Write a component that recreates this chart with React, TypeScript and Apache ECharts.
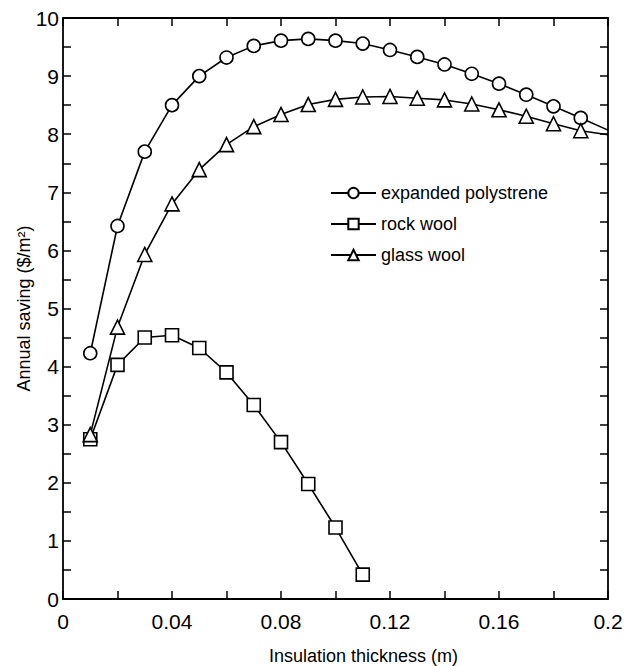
import React, { useEffect, useRef } from "react";
import * as echarts from "echarts";

const thickness = [0.01, 0.02, 0.03, 0.04, 0.05, 0.06, 0.07, 0.08, 0.09, 0.1, 0.11, 0.12, 0.13, 0.14, 0.15, 0.16, 0.17, 0.18, 0.19, 0.2];
const polystyrene = [4.23, 6.42, 7.7, 8.5, 9.0, 9.32, 9.52, 9.61, 9.64, 9.61, 9.56, 9.45, 9.33, 9.2, 9.04, 8.87, 8.68, 8.48, 8.28, 8.07];
const glassWool = [2.83, 4.68, 5.93, 6.8, 7.39, 7.82, 8.13, 8.34, 8.51, 8.6, 8.64, 8.65, 8.62, 8.59, 8.52, 8.42, 8.31, 8.18, 8.06, 7.99];
const rockWoolThickness = [0.01, 0.02, 0.03, 0.04, 0.05, 0.06, 0.07, 0.08, 0.09, 0.1, 0.11];
const rockWool = [2.75, 4.03, 4.5, 4.54, 4.32, 3.9, 3.34, 2.7, 1.98, 1.23, 0.42];
const seriesNames = ["expanded polystrene", "rock wool", "glass wool"];

const FONT = "Liberation Sans, Arial, sans-serif";

function pts(xs: number[], ys: number[]) {
  return ys.map((y, i) => {
    const p: any = { value: [xs[i], y] };
    if (xs[i] >= 0.2) p.symbolSize = 0;
    return p;
  });
}

export default function App() {
  const ref = useRef<HTMLDivElement>(null);
  useEffect(() => {
    if (!ref.current) return;
    const chart = echarts.init(ref.current, null, { renderer: "svg" });
    const tickStyle = { show: true, inside: true, length: 8, lineStyle: { color: "#000", width: 1.5 } };
    const minorStyle = { show: true, splitNumber: 2, length: 8, lineStyle: { color: "#000", width: 1.5 } };
    const axisLine = { show: true, onZero: false, lineStyle: { color: "#000", width: 1.8 } };
    const lineCommon = {
      type: "line",
      symbolSize: 13,
      lineStyle: { color: "#000", width: 1.6 },
      itemStyle: { color: "#fff", borderColor: "#000", borderWidth: 1.6 },
      clip: false,
    };
    chart.setOption({
      animation: false,
      backgroundColor: "#fff",
      grid: { left: 63, right: 26, top: 18, bottom: 67, containLabel: false, outerBoundsMode: "none" },
      legend: {
        orient: "vertical",
        left: 325,
        top: 179,
        itemWidth: 45,
        itemHeight: 13,
        itemGap: 13,
        data: seriesNames,
        textStyle: { fontFamily: FONT, fontSize: 18, color: "#000" },
      },
      xAxis: [
        {
          type: "value",
          min: 0,
          max: 0.2,
          interval: 0.04,
          name: "Insulation thickness (m)",
          nameLocation: "middle",
          nameGap: 48,
          nameMoveOverlap: false,
          nameTextStyle: { fontFamily: FONT, fontSize: 18, color: "#000", padding: [0, 0, 0, 56] },
          axisLine,
          axisTick: tickStyle,
          minorTick: minorStyle,
          splitLine: { show: false },
          axisLabel: {
            fontFamily: FONT,
            fontSize: 21,
            color: "#000",
            margin: 12,
            formatter: (v: number) => String(+v.toFixed(2)),
          },
        },
        {
          type: "value",
          position: "top",
          min: 0,
          max: 0.2,
          interval: 0.04,
          axisLine,
          axisTick: tickStyle,
          minorTick: minorStyle,
          splitLine: { show: false },
          axisLabel: { show: false },
        },
      ],
      yAxis: [
        {
          type: "value",
          min: 0,
          max: 10,
          interval: 1,
          name: "Annual saving ($/m²)",
          nameLocation: "middle",
          nameGap: 30,
          nameMoveOverlap: false,
          nameTextStyle: { fontFamily: FONT, fontSize: 18, color: "#000" },
          axisLine,
          axisTick: tickStyle,
          minorTick: minorStyle,
          splitLine: { show: false },
          axisLabel: { fontFamily: FONT, fontSize: 21, color: "#000", margin: 4 },
        },
        {
          type: "value",
          position: "right",
          min: 0,
          max: 10,
          interval: 1,
          axisLine,
          axisTick: tickStyle,
          minorTick: minorStyle,
          splitLine: { show: false },
          axisLabel: { show: false },
        },
      ],
      series: [
        { ...lineCommon, name: seriesNames[0], symbol: "circle", data: pts(thickness, polystyrene) },
        { ...lineCommon, name: seriesNames[1], symbol: "rect", data: pts(rockWoolThickness, rockWool) },
        { ...lineCommon, name: seriesNames[2], symbol: "triangle", symbolSize: 14, data: pts(thickness, glassWool) },
      ],
    });
    return () => chart.dispose();
  }, []);
  return (
    <div
      ref={ref}
      style={{ position: "fixed", left: 0, top: 0, width: 634, height: 666, background: "#fff" }}
    />
  );
}
